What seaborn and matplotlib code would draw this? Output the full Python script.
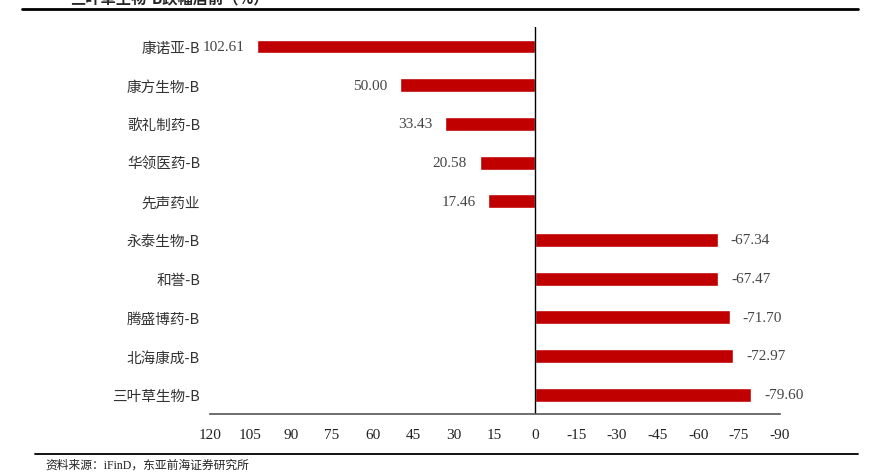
import matplotlib
matplotlib.use("Agg")
import matplotlib.pyplot as plt
import seaborn as sns
from matplotlib.lines import Line2D

# data
names = ["康诺亚-B", "康方生物-B", "歌礼制药-B", "华领医药-B", "先声药业",
         "永泰生物-B", "和誉-B", "腾盛博药-B", "北海康成-B", "三叶草生物-B"]
changes = [102.61, 50.00, 33.43, 20.58, 17.46,
           -67.34, -67.47, -71.70, -72.97, -79.60]
xticks = list(range(120, -91, -15))

sns.set_style("white")
plt.rcParams['font.family'] = ['Liberation Serif', 'Noto Sans CJK SC', 'DejaVu Sans']

fig = plt.figure(figsize=(8.74, 4.77), dpi=100)
ax = fig.add_axes([0.240, 0.130, 0.652, 0.811])

sns.barplot(x=changes, y=names, color="#C00000", width=0.36, orient="h",
            saturation=1, ax=ax)
ax.set_xlim(120, -90)
ax.set_ylim(9.5, -0.5)
ax.set_xticks(xticks)
ax.set_xticklabels([str(t) for t in xticks], fontsize=11, color="#222222")
ax.set_xlabel("")
ax.set_ylabel("")

for lab in ax.get_yticklabels():
    lab.set_fontfamily(['Noto Sans CJK SC', 'DejaVu Sans'])
    lab.set_fontsize(10.5)
    lab.set_color("#333333")

ax.bar_label(ax.containers[0], fmt="%.2f", padding=9, fontsize=11, color="#444444")

for s in ["top", "right", "left"]:
    ax.spines[s].set_visible(False)
ax.spines["bottom"].set_color("#555555")
ax.spines["bottom"].set_linewidth(1.2)
ax.tick_params(axis="x", direction="in", length=5, width=1, colors="#555555",
               labelcolor="#222222", pad=10)
ax.tick_params(axis="y", length=0, pad=7)
ax.axvline(0, color="black", lw=1)

# header / footer decorations
fig.add_artist(Line2D([0.025, 0.982], [0.979, 0.979], color="black", lw=2))
fig.add_artist(Line2D([0.040, 0.982], [0.046, 0.046], color="black", lw=1.3))
fig.text(0.080, 1.004, "三叶草生物-B跌幅居前（%）", fontsize=11, fontweight="bold",
         va="center", family=['Noto Sans CJK SC', 'DejaVu Sans'])
fig.text(0.052, 0.023, "资料来源：iFinD，东亚前海证券研究所", fontsize=8.5,
         va="center", color="#222222")

fig.savefig("out.png", dpi=100)
